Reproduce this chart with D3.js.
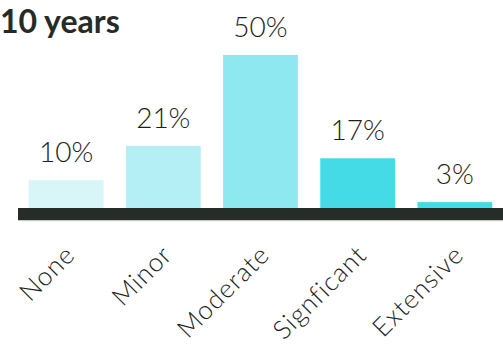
<!DOCTYPE html>
<html>
<head>
<meta charset="utf-8">
<script src="https://cdn.jsdelivr.net/npm/d3@7/dist/d3.min.js"></script>
<style>
  html, body { margin: 0; padding: 0; background: #fff; overflow: hidden; }
  svg { display: block; }
</style>
</head>
<body>
<svg id="chart" width="503" height="353"></svg>
<script>
// Share of responses by degree of change
const categories = ["None", "Minor", "Moderate", "Signficant", "Extensive"];
const values = [10, 21, 50, 17, 3];
const valueLabels = ["10%", "21%", "50%", "17%", "3%"];
const barColors = ["#d8f5f8", "#b4eff5", "#8de8ef", "#44dbe6", "#44dbe6"];
const titleText = "10 years";

const W = 503, H = 353;
const svg = d3.select("#chart");
const font = "Lato, 'Open Sans', 'DejaVu Sans', sans-serif";

const x = d3.scaleBand()
  .domain(categories)
  .range([18, 503])
  .paddingInner(0.23)
  .paddingOuter(0.11);

const y = d3.scaleLinear()
  .domain([0, 50])
  .range([211.5, 55]);

// title
svg.append("text")
  .attr("x", 0)
  .attr("y", 33)
  .attr("font-family", font)
  .attr("font-weight", 700)
  .attr("font-size", 32)
  .attr("fill", "#262b28")
  .text(titleText);

// bars
svg.append("g").selectAll("rect")
  .data(categories)
  .join("rect")
  .attr("x", d => x(d))
  .attr("width", x.bandwidth())
  .attr("y", (d, i) => y(values[i]))
  .attr("height", (d, i) => y(0) - y(values[i]))
  .attr("fill", (d, i) => barColors[i]);

// value labels
svg.append("g").selectAll("text")
  .data(categories)
  .join("text")
  .attr("x", d => x(d) + x.bandwidth() / 2)
  .attr("y", (d, i) => y(values[i]) - 18)
  .attr("text-anchor", "middle")
  .attr("font-family", font)
  .attr("font-weight", 300)
  .attr("font-size", 28)
  .attr("fill", "#1e1e1e")
  .text((d, i) => valueLabels[i]);

// baseline band
svg.append("rect")
  .attr("x", 18).attr("y", 208)
  .attr("width", W - 18).attr("height", 12)
  .attr("fill", "#262d29");
svg.append("rect")
  .attr("x", 18).attr("y", 220)
  .attr("width", W - 18).attr("height", 1.2)
  .attr("fill", "#c8c8c8");

// category axis with rotated labels
const axis = svg.append("g")
  .attr("transform", "translate(0,250)")
  .call(d3.axisBottom(x).tickSize(0).tickPadding(0));
axis.select(".domain").remove();
axis.selectAll("text")
  .attr("font-family", font)
  .attr("font-weight", 300)
  .attr("font-size", 26)
  .attr("letter-spacing", 1)
  .attr("fill", "#1e1e1e")
  .attr("text-anchor", "end")
  .attr("dy", "0.35em")
  .attr("transform", "translate(4,0) rotate(-45)");
</script>
</body>
</html>
